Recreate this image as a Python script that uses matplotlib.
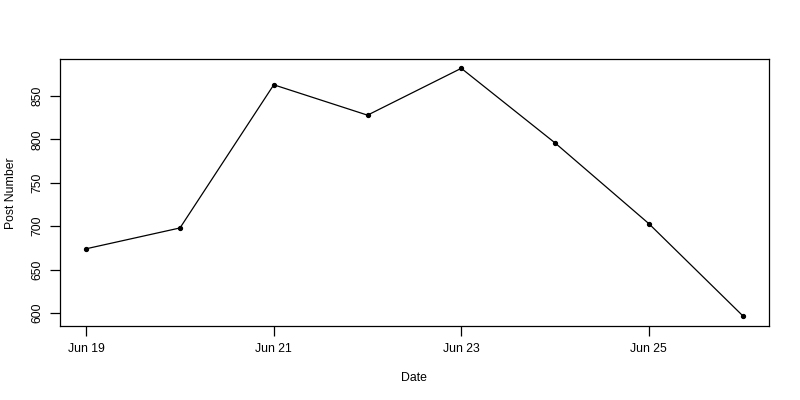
import pandas as pd
import matplotlib.pyplot as plt
import matplotlib.dates as mdates

plt.rcParams['font.family'] = ['Liberation Sans', 'DejaVu Sans']

# Daily post counts
dates = pd.date_range("2020-06-19", "2020-06-26", freq="D")
posts = [674, 698, 863, 828, 882, 796, 703, 597]
tick_dates = pd.to_datetime(["2020-06-19", "2020-06-21", "2020-06-23", "2020-06-25"])
y_ticks = [600, 650, 700, 750, 800, 850]

fig = plt.figure(figsize=(8, 4), dpi=100)
ax = fig.add_axes([0.075, 0.184, 0.886, 0.668])

ax.plot(dates, posts, color='black', linewidth=0.9, marker='o', markersize=2.8)
ax.margins(x=0.04)
ax.set_ylim(584.5, 892.5)

ax.set_xticks(tick_dates)
ax.xaxis.set_major_formatter(mdates.DateFormatter('%b %d'))
ax.set_yticks(y_ticks)
ax.set_yticklabels([str(v) for v in y_ticks], rotation=90, va='center')

ax.tick_params(axis='both', direction='out', length=7, width=0.9,
               labelsize=8.8, pad=5)
ax.tick_params(axis='x', pad=5)
for spine in ax.spines.values():
    spine.set_linewidth(0.9)

ax.set_xlabel("Date", fontsize=8.8, labelpad=12)
ax.set_ylabel("Post Number", fontsize=8.8, labelpad=10)

plt.savefig("out.png", dpi=100)
